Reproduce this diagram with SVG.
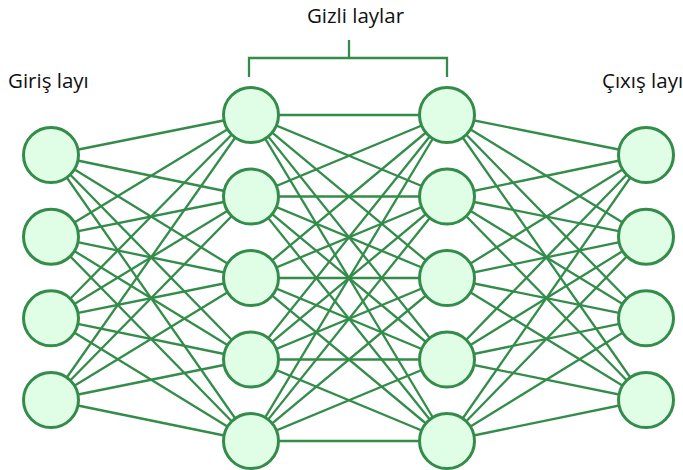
<svg xmlns="http://www.w3.org/2000/svg" width="683" height="470" viewBox="0 0 683 470">
<style>
.n{fill:#e0fde6;stroke:#338c4a;stroke-width:3}
.e line{stroke:#338c4a;stroke-width:2.3}
.t{font-family:"Open Sans","Liberation Sans",sans-serif;font-size:20.5px;fill:#111}
</style>
<rect width="683" height="470" fill="#fff"/>
<g id="labels">
<text class="t" x="8" y="88">Giriş layı</text>
<text class="t" x="602" y="88">Çıxış layı</text>
<text class="t" x="355.5" y="23" text-anchor="middle">Gizli laylar</text>
</g>
<g id="bracket" fill="none" stroke="#338c4a" stroke-width="2.3">
<path d="M349,40 V58 M249,77 V58 H447 V77"/>
</g>
<g id="connectors" class="e">
<line x1="51" y1="155" x2="251" y2="115"/><line x1="51" y1="155" x2="251" y2="196.5"/><line x1="51" y1="155" x2="251" y2="278"/><line x1="51" y1="155" x2="251" y2="359.5"/><line x1="51" y1="155" x2="251" y2="441"/>
<line x1="51" y1="236.7" x2="251" y2="115"/><line x1="51" y1="236.7" x2="251" y2="196.5"/><line x1="51" y1="236.7" x2="251" y2="278"/><line x1="51" y1="236.7" x2="251" y2="359.5"/><line x1="51" y1="236.7" x2="251" y2="441"/>
<line x1="51" y1="318.3" x2="251" y2="115"/><line x1="51" y1="318.3" x2="251" y2="196.5"/><line x1="51" y1="318.3" x2="251" y2="278"/><line x1="51" y1="318.3" x2="251" y2="359.5"/><line x1="51" y1="318.3" x2="251" y2="441"/>
<line x1="51" y1="400" x2="251" y2="115"/><line x1="51" y1="400" x2="251" y2="196.5"/><line x1="51" y1="400" x2="251" y2="278"/><line x1="51" y1="400" x2="251" y2="359.5"/><line x1="51" y1="400" x2="251" y2="441"/>
<line x1="251" y1="115" x2="447" y2="115"/><line x1="251" y1="115" x2="447" y2="196.5"/><line x1="251" y1="115" x2="447" y2="278"/><line x1="251" y1="115" x2="447" y2="359.5"/><line x1="251" y1="115" x2="447" y2="441"/>
<line x1="251" y1="196.5" x2="447" y2="115"/><line x1="251" y1="196.5" x2="447" y2="196.5"/><line x1="251" y1="196.5" x2="447" y2="278"/><line x1="251" y1="196.5" x2="447" y2="359.5"/><line x1="251" y1="196.5" x2="447" y2="441"/>
<line x1="251" y1="278" x2="447" y2="115"/><line x1="251" y1="278" x2="447" y2="196.5"/><line x1="251" y1="278" x2="447" y2="278"/><line x1="251" y1="278" x2="447" y2="359.5"/><line x1="251" y1="278" x2="447" y2="441"/>
<line x1="251" y1="359.5" x2="447" y2="115"/><line x1="251" y1="359.5" x2="447" y2="196.5"/><line x1="251" y1="359.5" x2="447" y2="278"/><line x1="251" y1="359.5" x2="447" y2="359.5"/><line x1="251" y1="359.5" x2="447" y2="441"/>
<line x1="251" y1="441" x2="447" y2="115"/><line x1="251" y1="441" x2="447" y2="196.5"/><line x1="251" y1="441" x2="447" y2="278"/><line x1="251" y1="441" x2="447" y2="359.5"/><line x1="251" y1="441" x2="447" y2="441"/>
<line x1="447" y1="115" x2="646" y2="155"/><line x1="447" y1="115" x2="646" y2="236.7"/><line x1="447" y1="115" x2="646" y2="318.3"/><line x1="447" y1="115" x2="646" y2="400"/>
<line x1="447" y1="196.5" x2="646" y2="155"/><line x1="447" y1="196.5" x2="646" y2="236.7"/><line x1="447" y1="196.5" x2="646" y2="318.3"/><line x1="447" y1="196.5" x2="646" y2="400"/>
<line x1="447" y1="278" x2="646" y2="155"/><line x1="447" y1="278" x2="646" y2="236.7"/><line x1="447" y1="278" x2="646" y2="318.3"/><line x1="447" y1="278" x2="646" y2="400"/>
<line x1="447" y1="359.5" x2="646" y2="155"/><line x1="447" y1="359.5" x2="646" y2="236.7"/><line x1="447" y1="359.5" x2="646" y2="318.3"/><line x1="447" y1="359.5" x2="646" y2="400"/>
<line x1="447" y1="441" x2="646" y2="155"/><line x1="447" y1="441" x2="646" y2="236.7"/><line x1="447" y1="441" x2="646" y2="318.3"/><line x1="447" y1="441" x2="646" y2="400"/>
</g>
<g id="in1"><circle class="n" cx="51" cy="155" r="27.5"/></g>
<g id="in2"><circle class="n" cx="51" cy="236.7" r="27.5"/></g>
<g id="in3"><circle class="n" cx="51" cy="318.3" r="27.5"/></g>
<g id="in4"><circle class="n" cx="51" cy="400" r="27.5"/></g>
<g id="h1a"><circle class="n" cx="251" cy="115" r="27.5"/></g>
<g id="h1b"><circle class="n" cx="251" cy="196.5" r="27.5"/></g>
<g id="h1c"><circle class="n" cx="251" cy="278" r="27.5"/></g>
<g id="h1d"><circle class="n" cx="251" cy="359.5" r="27.5"/></g>
<g id="h1e"><circle class="n" cx="251" cy="441" r="27.5"/></g>
<g id="h2a"><circle class="n" cx="447" cy="115" r="27.5"/></g>
<g id="h2b"><circle class="n" cx="447" cy="196.5" r="27.5"/></g>
<g id="h2c"><circle class="n" cx="447" cy="278" r="27.5"/></g>
<g id="h2d"><circle class="n" cx="447" cy="359.5" r="27.5"/></g>
<g id="h2e"><circle class="n" cx="447" cy="441" r="27.5"/></g>
<g id="out1"><circle class="n" cx="646" cy="155" r="27.5"/></g>
<g id="out2"><circle class="n" cx="646" cy="236.7" r="27.5"/></g>
<g id="out3"><circle class="n" cx="646" cy="318.3" r="27.5"/></g>
<g id="out4"><circle class="n" cx="646" cy="400" r="27.5"/></g>
</svg>
